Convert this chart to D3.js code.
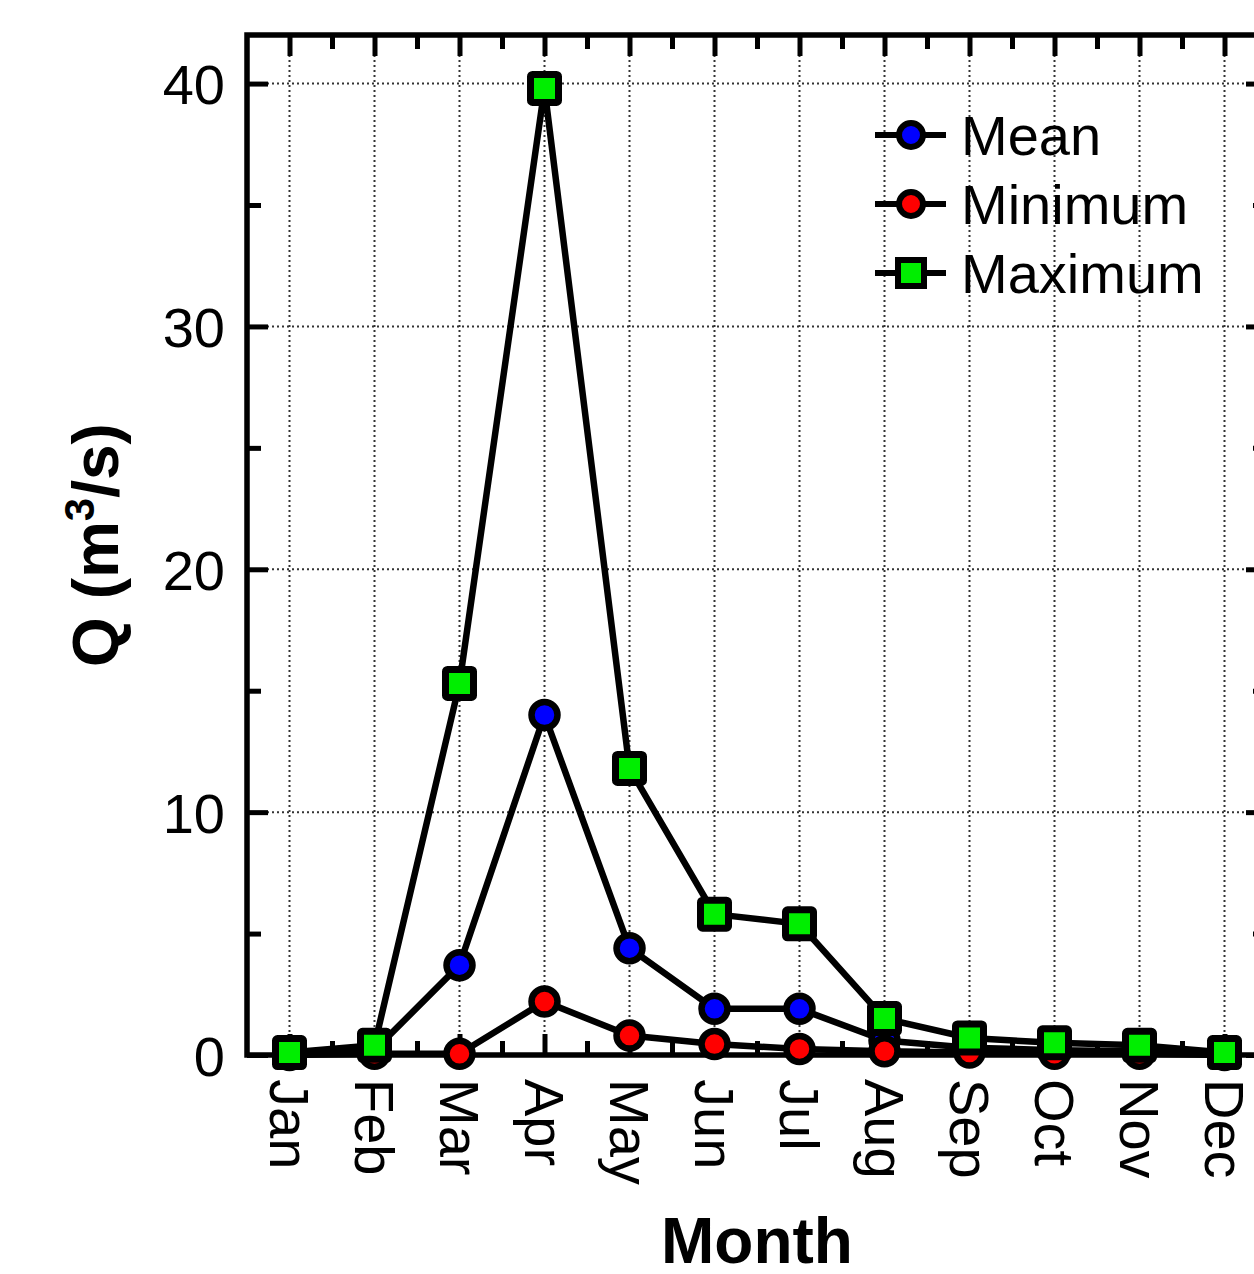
<!DOCTYPE html>
<html><head><meta charset="utf-8">
<script src="https://cdn.jsdelivr.net/npm/d3@7"></script>
<style>body{margin:0;background:#fff}svg{display:block}text{font-family:"Liberation Sans",Arial,sans-serif}</style>
</head><body>
<svg id="c" width="1254" height="1274"></svg>
<script>
const months = ["Jan","Feb","Mar","Apr","May","Jun","Jul","Aug","Sep","Oct","Nov","Dec"];
const meanQ = [0.05,0.2,3.7,14.0,4.4,1.9,1.9,0.6,0.3,0.2,0.15,0.05];
const minQ  = [0.0,0.05,0.05,2.2,0.8,0.45,0.25,0.15,0.1,0.05,0.05,0.0];
const maxQ  = [0.1,0.4,15.3,39.8,11.8,5.8,5.4,1.5,0.7,0.5,0.4,0.1];
const yTicks = [0,10,20,30,40];
const yMinorTicks = [5,15,25,35];
const seriesNames = ["Mean","Minimum","Maximum"];
const seriesColors = ["#0000ff","#ff0000","#00ee00"];
const seriesShapes = ["circle","circle","square"];

const svg = d3.select("#c");
const L=247, R=1267, T=35, B=1055;
const x = d3.scalePoint().domain(months).range([L,R]).padding(0.5);
const y = d3.scaleLinear().domain([0,42]).range([B,T]);
const step = x.step();
const minorX = months.slice(0,-1).map((m)=>x(m)+step/2);
const lin = d3.scaleLinear().domain([L,R]).range([L,R]);

// grid
const grid = svg.append("g");
grid.selectAll("line.gx").data(months).join("line")
  .attr("x1",d=>x(d)).attr("x2",d=>x(d)).attr("y1",T).attr("y2",B)
  .attr("stroke","#333").attr("stroke-width",2).attr("stroke-dasharray","2,3");
grid.selectAll("line.gy").data(yTicks.slice(1)).join("line")
  .attr("x1",L).attr("x2",R).attr("y1",d=>y(d)).attr("y2",d=>y(d))
  .attr("stroke","#333").attr("stroke-width",2).attr("stroke-dasharray","2,3");

function styleAxis(g){g.select(".domain").remove();g.selectAll(".tick line").attr("stroke","#000").attr("stroke-width",5);}
// left axis
svg.append("g").attr("transform",`translate(${L},0)`)
  .call(d3.axisLeft(y).tickValues(yTicks).tickSize(-21).tickPadding(22).tickFormat(d3.format("d")))
  .call(styleAxis).call(g=>g.selectAll("text").attr("font-size",56).attr("fill","#000").attr("dy","0.36em"));
svg.append("g").attr("transform",`translate(${L},0)`)
  .call(d3.axisLeft(y).tickValues(yMinorTicks).tickSize(-14).tickFormat(""))
  .call(styleAxis);
// right axis
svg.append("g").attr("transform",`translate(${R},0)`)
  .call(d3.axisRight(y).tickValues(yTicks).tickSize(-21).tickFormat("")).call(styleAxis);
svg.append("g").attr("transform",`translate(${R},0)`)
  .call(d3.axisRight(y).tickValues(yMinorTicks).tickSize(-14).tickFormat("")).call(styleAxis);
// top axis
svg.append("g").attr("transform",`translate(0,${T})`)
  .call(d3.axisTop(x).tickSize(-21).tickFormat("")).call(styleAxis);
svg.append("g").attr("transform",`translate(0,${T})`)
  .call(d3.axisTop(lin).tickValues(minorX).tickSize(-14).tickFormat("")).call(styleAxis);
// bottom axis
const bx = svg.append("g").attr("transform",`translate(0,${B})`)
  .call(d3.axisBottom(x).tickSize(-21).tickPadding(0)).call(styleAxis);
bx.selectAll("text").attr("font-size",56).attr("fill","#000")
  .attr("text-anchor","start").attr("dy","0.36em")
  .attr("transform","translate(0,24) rotate(90)").attr("y",0).attr("x",0);
svg.append("g").attr("transform",`translate(0,${B})`)
  .call(d3.axisBottom(lin).tickValues(minorX).tickSize(-14).tickFormat("")).call(styleAxis);

// frame
svg.append("path").attr("d",`M${L},${B}V${T}H${R}V${B}Z`).attr("fill","none").attr("stroke","#000").attr("stroke-width",5.5);

// series
const data = [meanQ,minQ,maxQ];
const line = d3.line().x((d,i)=>x(months[i])).y(d=>y(d));
data.forEach((vals,si)=>{
  const g = svg.append("g");
  g.append("path").attr("d",line(vals)).attr("fill","none").attr("stroke","#000").attr("stroke-width",6.5).attr("stroke-linejoin","round");
  if(seriesShapes[si]==="circle"){
    g.selectAll("circle").data(vals).join("circle")
      .attr("cx",(d,i)=>x(months[i])).attr("cy",d=>y(d)).attr("r",13)
      .attr("fill",seriesColors[si]).attr("stroke","#000").attr("stroke-width",6.5);
  } else {
    g.selectAll("rect").data(vals).join("rect")
      .attr("x",(d,i)=>x(months[i])-14).attr("y",d=>y(d)-14).attr("width",28).attr("height",28).attr("rx",2)
      .attr("fill",seriesColors[si]).attr("stroke","#000").attr("stroke-width",7);
  }
});

// legend
const lg = svg.append("g");
seriesNames.forEach((n,i)=>{
  const yy = 135 + i*69;
  lg.append("line").attr("x1",875).attr("x2",946).attr("y1",yy).attr("y2",yy).attr("stroke","#000").attr("stroke-width",6);
  if(seriesShapes[i]==="circle") lg.append("circle").attr("cx",911).attr("cy",yy).attr("r",12).attr("fill",seriesColors[i]).attr("stroke","#000").attr("stroke-width",6);
  else lg.append("rect").attr("x",898).attr("y",yy-13).attr("width",26).attr("height",26).attr("fill",seriesColors[i]).attr("stroke","#000").attr("stroke-width",6);
  lg.append("text").attr("x",961).attr("y",yy).attr("dy","0.36em").attr("font-size",56).text(n);
});

// titles
svg.append("text").attr("x",(L+R)/2).attr("y",1263).attr("text-anchor","middle").attr("font-size",64).attr("font-weight","bold").text("Month");
const yt = svg.append("text").attr("transform",`translate(118,${(T+B)/2}) rotate(-90)`).attr("text-anchor","middle").attr("font-size",64).attr("font-weight","bold");
yt.append("tspan").text("Q (m");
yt.append("tspan").attr("font-size",42).attr("dy",-24).text("3");
yt.append("tspan").attr("dy",24).text("/s)");
</script>
</body></html>
